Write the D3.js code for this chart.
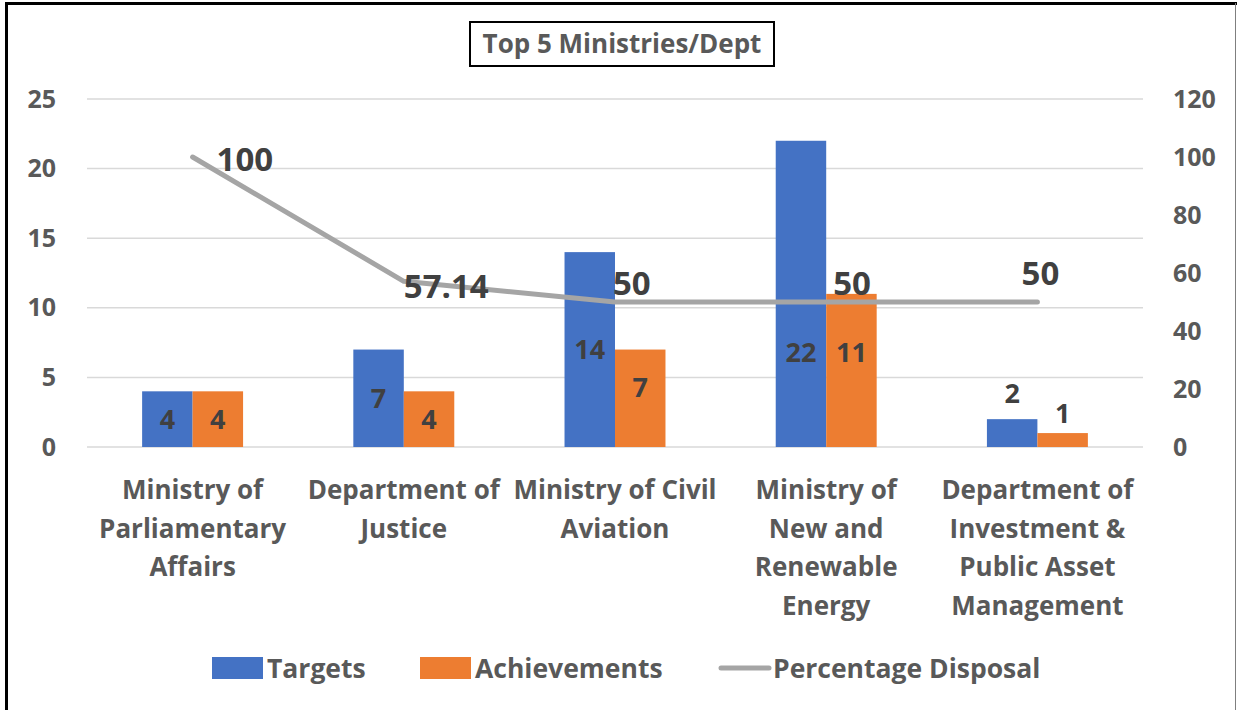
<!DOCTYPE html>
<html>
<head>
<meta charset="utf-8">
<script src="https://cdn.jsdelivr.net/npm/d3@7"></script>
<style>
  body { margin: 0; background: #fff; }
  svg { display: block; font-family: "Open Sans", sans-serif; font-weight: bold; }
</style>
</head>
<body>
<svg id="chart" width="1237" height="710"></svg>
<script>
// chart data
const categories = [
  ['Ministry of', 'Parliamentary', 'Affairs'],
  ['Department of', 'Justice'],
  ['Ministry of Civil', 'Aviation'],
  ['Ministry of', 'New and', 'Renewable', 'Energy'],
  ['Department of', 'Investment &', 'Public Asset', 'Management'],
];
const targets = [4, 7, 14, 22, 2];
const achievements = [4, 4, 7, 11, 1];
const percentDisposal = [100, 57.14, 50, 50, 50];
const leftTicks = [0, 5, 10, 15, 20, 25];
const rightTicks = [0, 20, 40, 60, 80, 100, 120];
const seriesNames = ['Targets', 'Achievements', 'Percentage Disposal'];

const BLUE = '#4472c4';
const ORANGE = '#ed7d31';
const GREY = '#a5a5a5';
const AXIS_TEXT = '#595959';
const LABEL_TEXT = '#404040';

const svg = d3.select('#chart');
const W = 1237, H = 710;
const plot = { left: 87, right: 1143, top: 99, bottom: 447 };

// frame
svg.append('rect').attr('width', W).attr('height', H).attr('fill', '#fff');
svg.append('line').attr('x1', 6.5).attr('x2', 6.5).attr('y1', 2).attr('y2', H)
  .attr('stroke', '#000').attr('stroke-width', 3);
svg.append('line').attr('x1', 5).attr('x2', W).attr('y1', 3.5).attr('y2', 3.5)
  .attr('stroke', '#000').attr('stroke-width', 3);
svg.append('line').attr('x1', 1235.5).attr('x2', 1235.5).attr('y1', 3).attr('y2', H)
  .attr('stroke', '#7f7f7f').attr('stroke-width', 1);

// title
const titleG = svg.append('g');
titleG.append('rect').attr('x', 470).attr('y', 22).attr('width', 304).attr('height', 44)
  .attr('fill', '#fff').attr('stroke', '#000').attr('stroke-width', 2);
titleG.append('text').attr('x', 622).attr('y', 44).attr('dy', '0.36em')
  .attr('text-anchor', 'middle').attr('fill', AXIS_TEXT).attr('font-size', 26)
  .text('Top 5 Ministries/Dept');

// scales
const x = d3.scaleBand()
  .domain(d3.range(categories.length))
  .range([plot.left, plot.right])
  .paddingInner(0.522)
  .paddingOuter(0.261);
const xs = d3.scaleBand().domain([0, 1]).range([0, x.bandwidth()]);
const yL = d3.scaleLinear().domain([0, 25]).range([plot.bottom, plot.top]);
const yR = d3.scaleLinear().domain([0, 120]).range([plot.bottom, plot.top]);

// gridlines
svg.append('g').selectAll('line').data(leftTicks).join('line')
  .attr('x1', plot.left).attr('x2', plot.right)
  .attr('y1', d => yL(d)).attr('y2', d => yL(d))
  .attr('stroke', '#d9d9d9').attr('stroke-width', 1.5);

// axes
const leftAxis = svg.append('g').attr('transform', `translate(${plot.left - 31},0)`)
  .call(d3.axisLeft(yL).tickValues(leftTicks).tickSize(0).tickPadding(0));
const rightAxis = svg.append('g').attr('transform', `translate(${plot.right + 30},0)`)
  .call(d3.axisRight(yR).tickValues(rightTicks).tickSize(0).tickPadding(0));
[leftAxis, rightAxis].forEach(a => {
  a.select('.domain').remove();
  a.selectAll('text').attr('fill', AXIS_TEXT).attr('font-size', 25)
    .attr('font-family', '"Open Sans", sans-serif').attr('font-weight', 'bold');
});

// category labels
const catG = svg.append('g');
categories.forEach((lines, i) => {
  const t = catG.append('text').attr('text-anchor', 'middle').attr('fill', AXIS_TEXT)
    .attr('font-size', 26);
  lines.forEach((ln, j) => {
    t.append('tspan').attr('x', x(i) + x.bandwidth() / 2)
      .attr('y', 490 + j * 38.5).attr('dy', '0.36em').text(ln);
  });
});

// bars
const barSeries = [
  { values: targets, color: BLUE },
  { values: achievements, color: ORANGE },
];
barSeries.forEach((s, si) => {
  svg.append('g').selectAll('rect').data(s.values).join('rect')
    .attr('x', (d, i) => x(i) + xs(si))
    .attr('width', xs.bandwidth())
    .attr('y', d => yL(d))
    .attr('height', d => yL(0) - yL(d))
    .attr('fill', s.color);
});

// bar labels (centred, small bars labelled above, Excel nudged group 4)
barSeries.forEach((s, si) => {
  svg.append('g').selectAll('text').data(s.values).join('text')
    .attr('x', (d, i) => x(i) + xs(si) + xs.bandwidth() / 2)
    .attr('y', (d, i) => {
      if (d < 3) return yL(d) - 20 - (si === 0 ? 6 : 0);
      if (i === 3) return yL(6.8);
      return yL(d / 2) + (si === 1 && i === 2 ? -11 : 0);
    })
    .attr('dy', '0.36em')
    .attr('text-anchor', 'middle').attr('fill', LABEL_TEXT).attr('font-size', 27)
    .text(d => d);
});

// line
const line = d3.line()
  .x((d, i) => x(i) + x.bandwidth() / 2)
  .y(d => yR(d));
svg.append('path').datum(percentDisposal)
  .attr('d', line).attr('fill', 'none').attr('stroke', GREY)
  .attr('stroke-width', 5).attr('stroke-linecap', 'round').attr('stroke-linejoin', 'round');

// line labels
const lineLabelOffset = [[24, 1, 'start'], [0, 4, 'start'], [-2, -20, 'start'], [7, -20, 'start'], [3, -30, 'middle']];
svg.append('g').selectAll('text').data(percentDisposal).join('text')
  .attr('x', (d, i) => x(i) + x.bandwidth() / 2 + lineLabelOffset[i][0])
  .attr('y', d => yR(d))
  .attr('dy', (d, i) => lineLabelOffset[i][1])
  .attr('dominant-baseline', 'central')
  .attr('text-anchor', (d, i) => lineLabelOffset[i][2])
  .attr('fill', LABEL_TEXT).attr('font-size', 33)
  .text(d => d);

// legend
const legend = svg.append('g').attr('transform', 'translate(0,668)');
const legendItems = [
  { name: seriesNames[0], color: BLUE, type: 'rect', x: 212 },
  { name: seriesNames[1], color: ORANGE, type: 'rect', x: 420 },
  { name: seriesNames[2], color: GREY, type: 'line', x: 718 },
];
legendItems.forEach(it => {
  if (it.type === 'rect') {
    legend.append('rect').attr('x', it.x).attr('y', -11).attr('width', 51).attr('height', 22)
      .attr('fill', it.color);
  } else {
    legend.append('line').attr('x1', it.x + 3).attr('x2', it.x + 51).attr('y1', 0).attr('y2', 0)
      .attr('stroke', it.color).attr('stroke-width', 5).attr('stroke-linecap', 'round');
  }
  legend.append('text').attr('x', it.x + 55).attr('y', 0).attr('dy', '0.36em')
    .attr('fill', AXIS_TEXT).attr('font-size', 26.5).text(it.name);
});
</script>
</body>
</html>
